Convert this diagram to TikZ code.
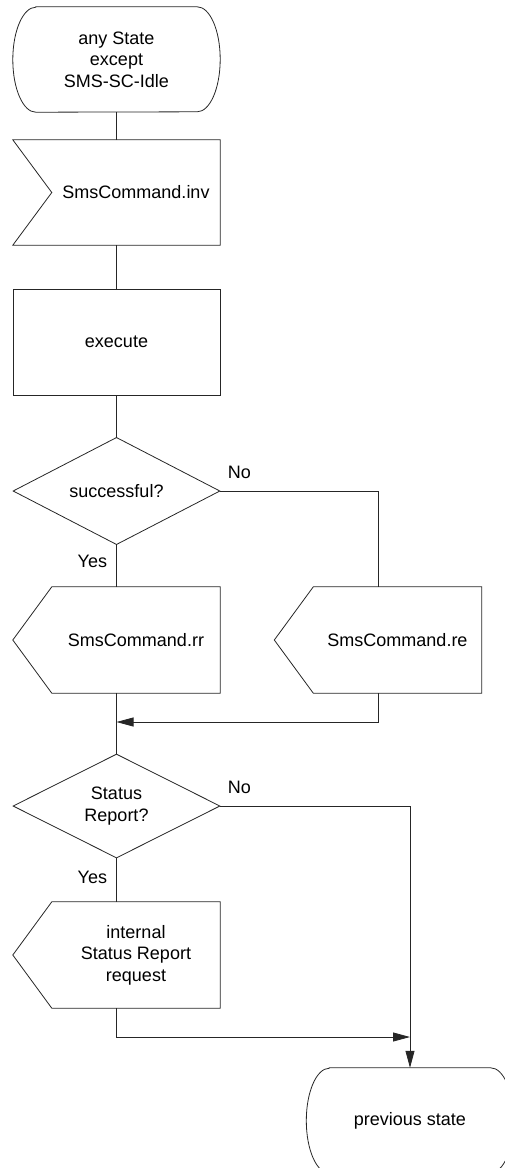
\documentclass[tikz,border=0pt]{standalone}
\usepackage{fontspec}
\setmainfont{Liberation Sans}
\usetikzlibrary{shapes.geometric,arrows.meta}

\begin{document}
\begin{tikzpicture}[x=1pt, y=-1pt,
		every node/.style={font=\fontsize{18}{21.5}\selectfont},
		wire/.style={draw=black!85, line width=0.8pt},
		flow/.style={wire, -{Triangle[length=17pt,width=9pt]}},
		statebox/.style={rectangle, minimum width=207pt, minimum height=105pt, inner sep=0pt, align=center,
			append after command={\pgfextra{\draw[wire] ([xshift=23pt]\tikzlastnode.north west) -- ([xshift=-23pt]\tikzlastnode.north east)
				arc[start angle=90, end angle=-90, x radius=23pt, y radius=52.5pt] -- ([xshift=23pt]\tikzlastnode.south west)
				arc[start angle=270, end angle=90, x radius=23pt, y radius=52.5pt] -- cycle;}}},
		taskbox/.style={wire, rectangle, minimum width=207pt, minimum height=106pt, inner sep=0pt},
		inbox/.style={rectangle, minimum width=168pt, minimum height=105pt, inner sep=0pt, align=center,
			append after command={\pgfextra{\draw[wire] ([xshift=-39pt]\tikzlastnode.north west) -- (\tikzlastnode.north east)
				-- (\tikzlastnode.south east) -- ([xshift=-39pt]\tikzlastnode.south west) -- (\tikzlastnode.west) -- cycle;}}},
		outbox/.style={rectangle, minimum width=168pt, minimum height=106pt, inner sep=0pt, align=center,
			append after command={\pgfextra{\draw[wire] (\tikzlastnode.north west) -- (\tikzlastnode.north east)
				-- (\tikzlastnode.south east) -- (\tikzlastnode.south west) -- ([xshift=-39pt]\tikzlastnode.west) -- cycle;}}},
		choice/.style={wire, diamond, minimum width=207pt, minimum height=104pt, inner sep=0pt, align=center},
		answer/.style={inner sep=0pt}]

		\clip (0,0) rectangle (505,1168);

		% Draw the states and the boxes
		\node[statebox] (start) at (116.5,59.5) {any State\\except\\SMS-SC-Idle};
		\node[inbox] (inv) at (136,192.5) {SmsCommand.inv};
		\node[taskbox] (exec) at (116.5,342) {execute};
		\node[choice] (ok) at (116.5,491) {successful?};
		\node[outbox] (rr) at (136,640) {SmsCommand.rr};
		\node[outbox] (re) at (397.5,640) {SmsCommand.re};
		\node[choice] (report) at (116.5,806) {Status\\Report?};
		\node[outbox] (request) at (136,955) {internal\\Status Report\\request};
		\node[statebox] (prev) at (410,1120.5) {previous state};

		\coordinate (join) at (116.5,722);
		\coordinate (merge) at (410,1037);

		% Draw the connectors
		\draw[wire] (start.south) -- (start.south |- inv.north);
		\draw[wire] (exec.north |- inv.south) -- (exec.north);
		\draw[wire] (exec.south) -- (ok.north);
		\draw[wire] (ok.east) -| ([xshift=-19.5pt]re.north) node[answer, pos=0.06, above=12pt] {No};
		\draw[wire] (ok.south) -- (ok.south |- rr.north) node[answer, pos=0.4, left=9pt] {Yes};
		\draw[flow] ([xshift=-19.5pt]re.south) |- (join);
		\draw[wire] (report.north |- rr.south) -- (report.north);
		\draw[flow] (report.east) -| (prev.north) node[answer, pos=0.05, above=12pt] {No};
		\draw[wire] (report.south) -- (report.south |- request.north) node[answer, pos=0.44, left=9pt] {Yes};
		\draw[flow] ([xshift=-19.5pt]request.south) |- (merge);

	\end{tikzpicture}
\end{document}
